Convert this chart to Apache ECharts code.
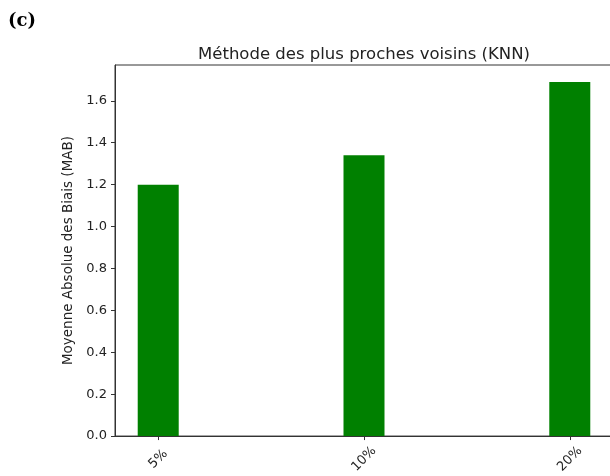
<!DOCTYPE html>
<html>
<head>
<meta charset="utf-8">
<script src="https://cdn.jsdelivr.net/npm/echarts@6/dist/echarts.min.js"></script>
<style>
  html, body { margin: 0; padding: 0; background: #fff; overflow: hidden; }
  #chart { width: 624px; height: 476px; }
</style>
</head>
<body>
<div id="chart"></div>
<script>
// Missing-data rates and the mean absolute bias obtained with KNN imputation
const categories = ['5%', '10%', '20%'];
const mabValues = [1.20, 1.34, 1.69];
const yTickValues = [0, 0.2, 0.4, 0.6, 0.8, 1.0, 1.2, 1.4, 1.6];

const chart = echarts.init(document.getElementById('chart'), null, { renderer: 'canvas' });
const font = 'DejaVu Sans';
const axisColor = '#333';
const textColor = '#222';

chart.setOption({
  animation: false,
  graphic: [{
    type: 'text',
    left: 8,
    top: 12,
    style: { text: '(c)', font: 'bold 18px "DejaVu Serif"', fill: '#000' }
  }],
  title: {
    text: 'Méthode des plus proches voisins (KNN)',
    left: 359,
    textAlign: 'center',
    top: 41,
    textStyle: { fontFamily: font, fontSize: 16.5, fontWeight: 'normal', color: textColor }
  },
  grid: { left: 115, top: 65, right: 11, bottom: 37, containLabel: false, show: true, borderColor: axisColor, borderWidth: 1 },
  xAxis: {
    type: 'value',
    min: -0.21,
    max: 2.21,
    splitLine: { show: false },
    axisLine: { show: true, onZero: false, lineStyle: { color: axisColor } },
    axisTick: { show: true, length: 4, customValues: [0, 1, 2], lineStyle: { color: axisColor } },
    axisLabel: {
      customValues: [0, 1, 2],
      formatter: v => categories[Math.round(v)],
      rotate: 45,
      align: 'center',
      verticalAlign: 'middle',
      margin: 23,
      fontFamily: font,
      fontSize: 13,
      color: textColor
    }
  },
  yAxis: {
    type: 'value',
    min: 0,
    max: 1.771,
    name: 'Moyenne Absolue des Biais (MAB)',
    nameLocation: 'middle',
    nameGap: 35,
    nameTextStyle: { fontFamily: font, fontSize: 13.5, color: textColor },
    splitLine: { show: false },
    axisLine: { show: true, onZero: false, lineStyle: { color: axisColor } },
    axisTick: { show: true, length: 4, customValues: yTickValues, lineStyle: { color: axisColor } },
    axisLabel: {
      customValues: yTickValues,
      formatter: v => v.toFixed(1),
      margin: 8,
      fontFamily: font,
      fontSize: 13,
      color: textColor
    }
  },
  series: [{
    type: 'bar',
    data: mabValues.map((v, i) => [i, v]),
    barWidth: 41,
    itemStyle: { color: '#008000' }
  }]
});
</script>
</body>
</html>
